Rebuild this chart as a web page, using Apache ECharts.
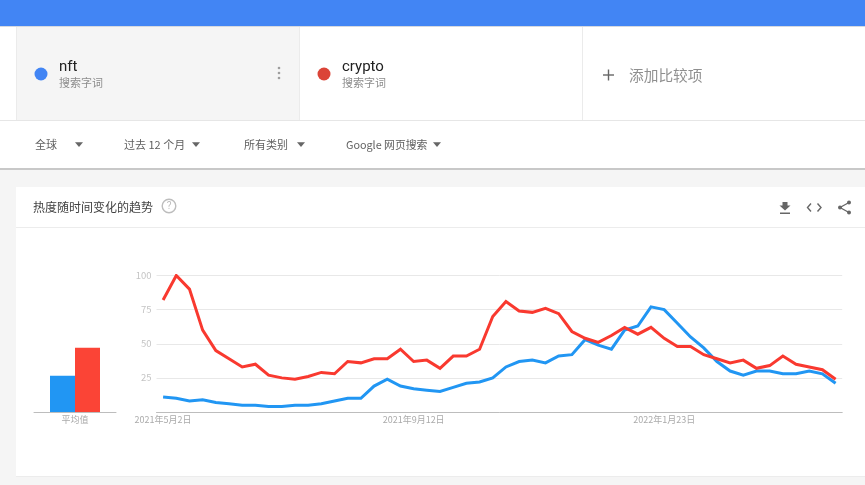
<!DOCTYPE html>
<html><head><meta charset="utf-8">
<style>html,body{margin:0;padding:0;background:#f5f5f5}#c{width:865px;height:485px}</style>
<script src="https://cdn.jsdelivr.net/npm/echarts@6/dist/echarts.min.js"></script>
</head><body><div id="c"></div>
<script>
const weeks = ["2021年5月2日","2021年5月9日","2021年5月16日","2021年5月23日","2021年5月30日","2021年6月6日","2021年6月13日","2021年6月20日","2021年6月27日","2021年7月4日","2021年7月11日","2021年7月18日","2021年7月25日","2021年8月1日","2021年8月8日","2021年8月15日","2021年8月22日","2021年8月29日","2021年9月5日","2021年9月12日","2021年9月19日","2021年9月26日","2021年10月3日","2021年10月10日","2021年10月17日","2021年10月24日","2021年10月31日","2021年11月7日","2021年11月14日","2021年11月21日","2021年11月28日","2021年12月5日","2021年12月12日","2021年12月19日","2021年12月26日","2022年1月2日","2022年1月9日","2022年1月16日","2022年1月23日","2022年1月30日","2022年2月6日","2022年2月13日","2022年2月20日","2022年2月27日","2022年3月6日","2022年3月13日","2022年3月20日","2022年3月27日","2022年4月3日","2022年4月10日","2022年4月17日","2022年4月24日"];
const shownWeeks = ["2021年5月2日","2021年9月12日","2022年1月23日"];
const nft = [11,10,8,9,7,6,5,5,4,4,5,5,6,8,10,10,19,24,19,17,16,15,18,21,22,25,33,37,38,36,41,42,53,49,46,60,63,77,75,65,55,47,37,30,27,30,30,28,28,30,28,21];
const crypto = [82,100,90,60,45,39,33,35,27,25,24,26,29,28,37,36,39,39,46,37,38,32,41,41,46,70,81,74,73,76,72,59,54,51,56,62,57,62,54,48,48,42,39,36,38,32,34,41,35,33,31,24];
const avgLabel = ["平均值"];
const avgNft = [26.5];
const avgCrypto = [47];

const CJK = '"Noto Sans CJK SC","Noto Sans",sans-serif';
const LAT = 'Roboto,"Noto Sans CJK SC",sans-serif';
const rect = (x,y,w,h,fill,z) => ({type:'rect',z:z||0,silent:true,shape:{x,y,width:w,height:h},style:{fill}});
const text = (x,y,t,size,fill,font,align) => ({type:'text',z:1,silent:true,style:{x,y,text:t,fill,font:size+'px '+(font||CJK),verticalAlign:'middle',align:align||'left'}});
const circ = (cx,cy,r,fill,extra) => ({type:'circle',z:1,silent:true,shape:{cx,cy,r},style:Object.assign({fill},extra||{})});
const tri = (cx,cy,c) => ({type:'polygon',z:1,silent:true,shape:{points:[[cx-4,cy-2.2],[cx+4,cy-2.2],[cx,cy+2.6]]},style:{fill:c||'#666'}});
const line = (x1,y1,x2,y2,stroke,w) => ({type:'line',z:1,silent:true,shape:{x1,y1,x2,y2},style:{stroke,lineWidth:w||1}});
const poly = (pts,stroke,w) => ({type:'polyline',z:1,silent:true,shape:{points:pts},style:{stroke,lineWidth:w||1.5,fill:null}});

const chrome = [
  rect(0,26,865,95,'#ffffff'),
  rect(16,26,283,94,'#f5f5f5'),
  rect(16,26,1,94,'#ebebeb'),
  rect(299,26,1,94,'#ebebeb'),
  rect(582,26,1,94,'#ebebeb'),
  rect(0,120,865,1,'#e6e6e6'),
  rect(0,121,865,47,'#ffffff'),
  rect(0,168,865,2,'#c8c8c8'),
  rect(16,187,849,289,'#ffffff'),
  rect(16,476,849,1,'#ececec'),
  rect(16,227,849,1,'#ececec'),
  rect(0,0,865,26,'#4285f4'),
  rect(0,26,865,1,'#d5d9e0'),
  circ(41,74,6.5,'#4285f4'),
  text(59,66,'nft',15,'#212121',LAT),
  text(59,83,'搜索字词',11,'#8c8c8c'),
  circ(279,68,1.3,'#9e9e9e'),circ(279,73,1.3,'#9e9e9e'),circ(279,78,1.3,'#9e9e9e'),
  circ(324,74,6.5,'#db4437'),
  text(342,66,'crypto',15,'#212121',LAT),
  text(342,83,'搜索字词',11,'#8c8c8c'),
  line(603,75,614,75,'#666',1.4),line(608.5,69.5,608.5,80.5,'#666',1.4),
  text(629,75,'添加比较项',14.7,'#8f8f8f'),
  text(35,144.5,'全球',11,'#5f5f5f'),tri(79,144.5),
  text(124,144.5,'过去 12 个月',11,'#5f5f5f'),tri(196,144.5),
  text(244,144.5,'所有类别',11,'#5f5f5f'),tri(301,144.5),
  text(346,144.5,'Google 网页搜索',10.8,'#5f5f5f'),tri(437,144.5),
  text(33,207,'热度随时间变化的趋势',12,'#424242'),
  circ(169,206,6.8,'none',{stroke:'#bdbdbd',lineWidth:1.4}),
  text(169,206.5,'?',10,'#bdbdbd',LAT,'center'),
  {type:'polygon',z:1,silent:true,shape:{points:[[782.5,202],[787.5,202],[787.5,205.5],[790.5,205.5],[785,210.5],[779.5,205.5],[782.5,205.5]]},style:{fill:'#666'}},
  rect(780,212.5,10,1.5,'#666',1),
  poly([[811,203.5],[807.5,207.5],[811,211.5]],'#666',1.4),
  poly([[817.5,203.5],[821,207.5],[817.5,211.5]],'#666',1.4),
  poly([[849,202.5],[840,207.5],[849,212.5]],'#666',1.3),
  circ(849,202.5,2,'#666'),circ(840,207.5,2,'#666'),circ(849,212.5,2,'#666')
];
chrome[14].style.y = 67;
chrome[20].style.y = 67;

const chart = echarts.init(document.getElementById('c'));
chart.setOption({
  animation:false,
  backgroundColor:'#f5f5f5',
  textStyle:{fontFamily:CJK},
  grid:[
    {left:156.5,top:275.5,width:685.7,height:136.5,containLabel:false},
    {left:34,top:275.5,width:82,height:136.5,containLabel:false}
  ],
  xAxis:[
    {type:'category',gridIndex:0,data:weeks,boundaryGap:true,
      axisTick:{show:false},
      axisLine:{lineStyle:{color:'#bdbdbd',width:1}},
      axisLabel:{color:'#aaaaaa',fontSize:9,margin:3,hideOverlap:false,
        interval:(i,v)=>shownWeeks.includes(v)}},
    {type:'category',gridIndex:1,data:avgLabel,
      axisTick:{show:false},
      axisLine:{lineStyle:{color:'#bdbdbd',width:1}},
      axisLabel:{color:'#aaaaaa',fontSize:9,margin:3}}
  ],
  yAxis:[
    {type:'value',gridIndex:0,min:0,max:100,interval:25,
      axisLine:{show:false},axisTick:{show:false},
      axisLabel:{color:'#c4c4c4',fontSize:9.5,margin:5,formatter:v=>v===0?'':v},
      splitLine:{lineStyle:{color:'#e8e8e8',width:1}}},
    {type:'value',gridIndex:1,min:0,max:100,interval:25,show:false,splitLine:{show:false}}
  ],
  series:[
    {name:'nft',type:'line',xAxisIndex:0,yAxisIndex:0,data:nft,showSymbol:false,smooth:false,silent:true,z:3,
      lineStyle:{color:'#2196f3',width:3,join:'miter'},itemStyle:{color:'#2196f3'}},
    {name:'crypto',type:'line',xAxisIndex:0,yAxisIndex:0,data:crypto,showSymbol:false,smooth:false,silent:true,z:4,
      lineStyle:{color:'#f9392f',width:3,join:'miter'},itemStyle:{color:'#f9392f'}},
    {name:'nft',type:'bar',xAxisIndex:1,yAxisIndex:1,data:avgNft,barWidth:25,barGap:'0%',silent:true,z:3,itemStyle:{color:'#2196f3'}},
    {name:'crypto',type:'bar',xAxisIndex:1,yAxisIndex:1,data:avgCrypto,barWidth:25,barGap:'0%',silent:true,z:3,itemStyle:{color:'#fb4436'}}
  ],
  graphic:{elements:chrome}
});
</script></body></html>
